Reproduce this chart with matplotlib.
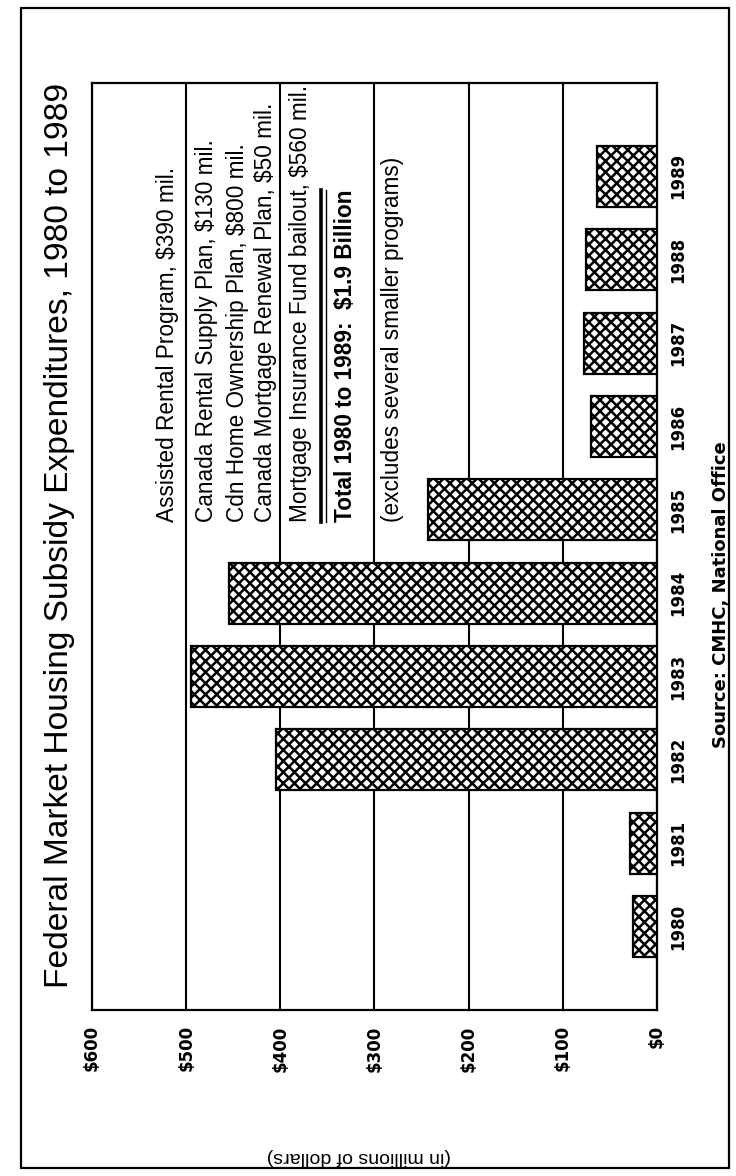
import matplotlib
matplotlib.use('Agg')
import matplotlib.pyplot as plt
from matplotlib.patches import Rectangle

# Data (millions of dollars)
years = [1980, 1981, 1982, 1983, 1984, 1985, 1986, 1987, 1988, 1989]
spending = [25, 29, 405, 495, 455, 243, 70, 78, 75, 64]
tick_values = [0, 100, 200, 300, 400, 500, 600]
tick_labels = ['$0', '$100', '$200', '$300', '$400', '$500', '$600']

notes = [
    ('Assisted Rental Program, $390 mil.', 520, 'normal'),
    ('Canada Rental Supply Plan, $130 mil.', 478, 'normal'),
    ('Cdn Home Ownership Plan, $800 mil.', 446, 'normal'),
    ('Canada Mortgage Renewal Plan, $50 mil.', 416, 'normal'),
    ('Mortgage Insurance Fund bailout, $560 mil.', 379, 'normal'),
    ('Total 1980 to 1989:  $1.9 Billion', 331, 'bold'),
    ('(excludes several smaller programs)', 281, 'normal'),
]

plt.rcParams['font.family'] = 'Liberation Sans'
plt.rcParams['hatch.linewidth'] = 1.8

W, H = 736, 1176
fig = plt.figure(figsize=(W / 100, H / 100), dpi=100)

# outer frame
fig.patches.append(Rectangle((21 / W, 1 - 1168 / H), 708 / W, 1160 / H,
                             transform=fig.transFigure, fill=False,
                             edgecolor='black', linewidth=1.6))

ax = fig.add_axes([92 / W, 1 - 1010 / H, 565 / W, 927 / H])
ax.barh(years, spending, height=0.73, color='white', edgecolor='black',
        hatch='xxx', linewidth=1.6, zorder=3)

ax.set_xlim(600, 0)
ax.set_ylim(1979.0, 1990.12)
ax.set_xticks(tick_values)
ax.set_xticklabels(tick_labels, rotation=90, fontfamily='DejaVu Sans',
                   fontweight='bold', fontsize=12)
ax.set_yticks(years)
ax.set_yticklabels([str(y) for y in years], rotation=90,
                   fontfamily='DejaVu Sans', fontweight='bold', fontsize=12)
ax.yaxis.tick_right()
for lab in ax.get_yticklabels():
    lab.set_va('center')
ax.tick_params(axis='x', length=0, pad=11)
ax.tick_params(axis='y', length=0, pad=9)
ax.xaxis.grid(True, color='black', linewidth=1.5)
ax.set_axisbelow(True)
for s in ax.spines.values():
    s.set_linewidth(1.6)

for text, val, weight in notes:
    ax.text(val, 1984.85, text, rotation=90, rotation_mode='anchor',
            ha='left', va='center', fontsize=16.3, fontweight=weight, zorder=4)

# underline under "Mortgage Insurance Fund bailout"
fig.canvas.draw()
r = fig.canvas.get_renderer()
probe = ax.text(379, 1984.85, 'Mortgage Insurance Fund bailout', rotation=90,
                rotation_mode='anchor', ha='left', va='center', fontsize=16.3)
bb = probe.get_window_extent(r)
probe.remove()
inv = ax.transData.inverted()
y_lo = inv.transform((0, bb.y0))[1]
y_hi = inv.transform((0, bb.y1))[1]
ax.plot([357, 357], [y_lo, y_hi], color='black', linewidth=2.6, zorder=4)
ax.plot([351, 351], [y_lo, y_hi], color='black', linewidth=1.0, zorder=4)

fig.text(60 / W, 1 - 535 / H,
         'Federal Market Housing Subsidy Expenditures, 1980 to 1989',
         rotation=90, ha='center', va='center', fontsize=24.1)
fig.text(721 / W, 1 - 595 / H, 'Source: CMHC, National Office', rotation=90,
         ha='center', va='center', fontsize=13, fontfamily='DejaVu Sans',
         fontweight='bold')
fig.text(359 / W, 1 - 1157 / H, '(in millions of dollars)', rotation=180,
         ha='center', va='center', fontsize=14)

fig.savefig('out.png', dpi=100)
